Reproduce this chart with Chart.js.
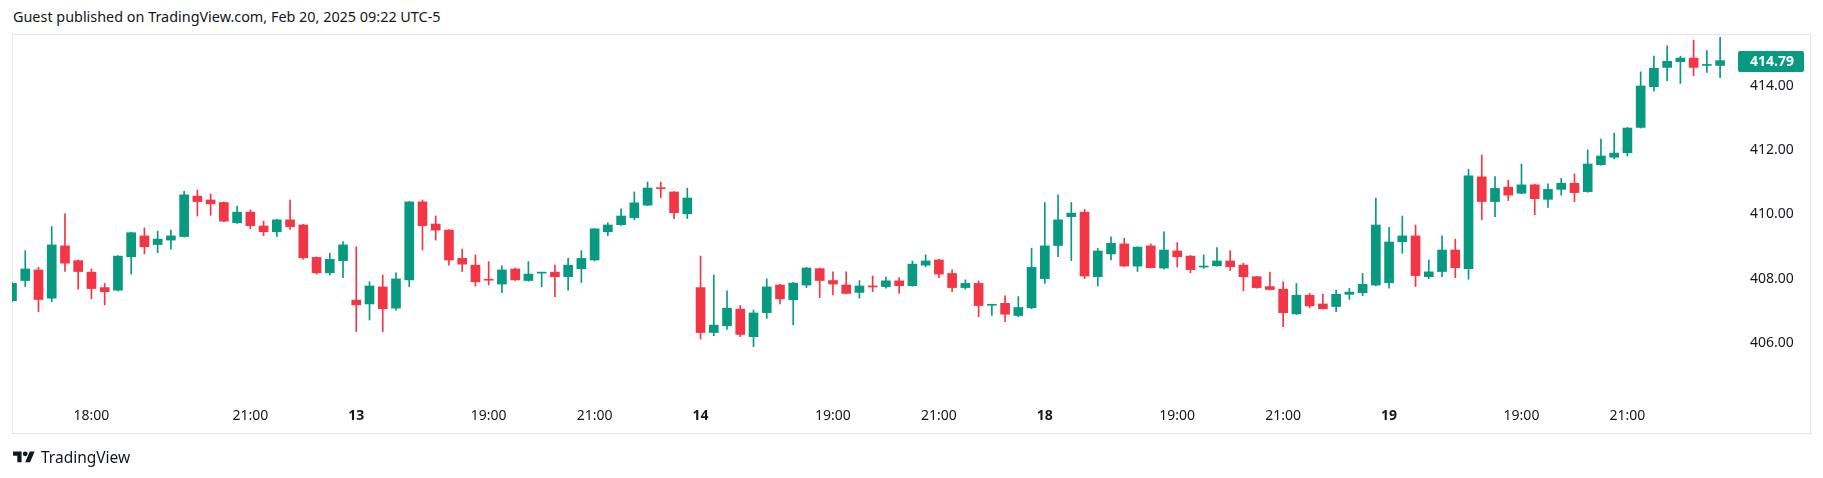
<!DOCTYPE html>
<html>
<head>
<meta charset="utf-8">
<title>TradingView candles</title>
<script src="https://cdn.jsdelivr.net/npm/chart.js@4.4.1/dist/chart.umd.min.js"></script>
<style>
  html, body { margin: 0; padding: 0; background: #ffffff; }
  body { width: 1823px; height: 478px; position: relative; overflow: hidden; font-family: "Noto Sans", sans-serif; color: #131722; }
  #header { position: absolute; left: 13px; top: 7px; font-size: 14.4px; white-space: nowrap; }
  #frame { position: absolute; left: 12px; top: 34px; width: 1797px; height: 398px; border: 1px solid #e6e6e6; }
  #chart { position: absolute; left: 0; top: 0; }
  #logo { position: absolute; left: 13px; top: 446px; display: flex; align-items: center; gap: 6px; font-size: 15.5px; }
</style>
</head>
<body>
<div id="header">Guest published on TradingView.com, Feb 20, 2025 09:22 UTC-5</div>
<div id="frame"></div>
<canvas id="chart" width="1823" height="478"></canvas>
<div id="logo">
  <svg width="22" height="17" viewBox="0 0 36 28"><path fill="#131722" d="M14 22H7V11H0V4h14v18zM28 22h-8l7.5-18h8L28 22z"/><circle fill="#131722" cx="20" cy="8" r="4"/></svg>
  <span>TradingView</span>
</div>
<script>
// 15 minute candles, index 0 = first bar on screen
const open = [
  407.31, 407.94, 408.27, 407.39, 409.02, 408.56, 408.20, 407.72, 407.64, 408.68,
  409.33, 409.06, 409.20, 409.31, 410.57, 410.45, 410.37, 409.74, 410.07, 409.64,
  409.46, 409.83, 409.67, 408.66, 408.18, 408.56, 407.33, 407.21, 407.74, 407.08,
  407.96, 410.39, 409.70, 409.51, 408.63, 408.42, 407.97, 407.83, 408.30, 407.94,
  408.17, 408.20, 408.06, 408.31, 408.58, 409.46, 409.68, 409.90, 410.29, 410.82,
  410.70, 410.02, 407.72, 406.32, 406.53, 407.05, 406.19, 406.94, 407.80, 407.34,
  407.80, 408.31, 407.94, 407.80, 407.57, 407.76, 407.75, 407.93, 407.78, 408.42,
  408.58, 408.16, 407.72, 407.85, 407.17, 407.23, 406.85, 407.09, 408.00, 409.03,
  409.93, 410.07, 408.06, 408.77, 409.08, 408.39, 409.02, 408.33, 408.86, 408.70,
  408.36, 408.40, 408.55, 408.42, 408.06, 407.75, 407.67, 406.90, 407.48, 407.21,
  407.13, 407.51, 407.56, 407.80, 407.87, 409.15, 409.33, 408.06, 408.22, 408.89,
  408.31, 411.17, 410.40, 410.85, 410.66, 410.92, 410.47, 410.78, 410.97, 410.71,
  411.55, 411.78, 411.92, 412.71, 413.98, 414.58, 414.76, 414.87, 414.64, 414.64
];
const high = [
  407.88, 408.87, 408.35, 409.62, 410.02, 408.58, 408.30, 407.85, 408.72, 409.45,
  409.58, 409.48, 409.51, 410.72, 410.76, 410.64, 410.39, 410.26, 410.14, 409.79,
  409.85, 410.45, 409.69, 408.68, 408.79, 409.15, 408.99, 407.90, 408.11, 408.18,
  410.40, 410.45, 409.95, 409.53, 408.92, 408.74, 408.53, 408.40, 408.33, 408.53,
  408.20, 408.42, 408.63, 408.87, 409.56, 409.74, 410.17, 410.70, 411.01, 411.01,
  410.71, 410.82, 408.70, 408.11, 407.62, 407.16, 407.02, 407.99, 407.82, 407.88,
  408.35, 408.33, 408.21, 408.21, 407.94, 408.08, 408.05, 408.03, 408.55, 408.74,
  408.60, 408.27, 407.96, 407.93, 407.20, 407.46, 407.44, 408.94, 410.37, 410.61,
  410.37, 410.16, 408.94, 409.30, 409.26, 408.99, 409.08, 409.46, 409.12, 408.72,
  408.74, 408.97, 408.87, 408.48, 408.07, 408.20, 407.90, 407.85, 407.54, 407.51,
  407.64, 407.70, 408.16, 410.51, 409.60, 409.95, 409.67, 408.58, 409.33, 409.23,
  411.41, 411.85, 411.18, 411.07, 411.57, 410.94, 410.95, 411.12, 411.26, 412.01,
  412.35, 412.53, 412.71, 414.44, 414.93, 415.25, 414.93, 415.43, 415.10, 415.52
];
const low = [
  407.28, 407.75, 406.97, 407.28, 408.22, 407.67, 407.37, 407.18, 407.62, 408.14,
  408.77, 408.81, 408.92, 409.29, 409.95, 409.97, 409.77, 409.72, 409.55, 409.34,
  409.31, 409.53, 408.60, 408.14, 408.11, 408.03, 406.35, 406.71, 406.35, 407.02,
  407.75, 408.89, 409.20, 408.42, 408.22, 407.77, 407.80, 407.56, 407.94, 407.92,
  407.75, 407.44, 407.64, 407.88, 408.55, 409.34, 409.66, 409.83, 410.27, 410.52,
  409.87, 409.87, 406.12, 406.22, 406.42, 406.19, 405.88, 406.76, 407.21, 406.56,
  407.72, 407.41, 407.49, 407.52, 407.39, 407.59, 407.70, 407.54, 407.76, 408.37,
  408.03, 407.59, 407.67, 406.81, 406.85, 406.66, 406.81, 407.06, 407.85, 408.68,
  408.56, 408.00, 407.77, 408.58, 408.38, 408.22, 408.33, 408.29, 408.36, 408.18,
  408.32, 408.39, 408.25, 407.62, 407.70, 407.65, 406.50, 406.88, 407.09, 407.05,
  406.97, 407.35, 407.47, 407.77, 407.70, 408.79, 407.75, 408.00, 408.06, 408.03,
  407.98, 409.83, 409.93, 410.43, 410.64, 409.99, 410.22, 410.60, 410.40, 410.69,
  411.53, 411.73, 411.82, 412.69, 413.84, 414.17, 414.08, 414.32, 414.42, 414.26
];
const close = [
  407.85, 408.30, 407.35, 409.05, 408.48, 408.22, 407.69, 407.59, 408.70, 409.43,
  408.99, 409.23, 409.33, 410.61, 410.40, 410.33, 409.79, 410.07, 409.65, 409.46,
  409.83, 409.62, 408.65, 408.18, 408.60, 409.05, 407.18, 407.77, 407.06, 407.99,
  410.39, 409.65, 409.51, 408.58, 408.45, 407.90, 407.95, 408.27, 407.96, 408.14,
  408.19, 408.06, 408.42, 408.63, 409.55, 409.67, 409.95, 410.36, 410.82, 410.80,
  410.05, 410.51, 406.32, 406.55, 407.08, 406.26, 406.93, 407.74, 407.37, 407.86,
  408.33, 407.94, 407.83, 407.54, 407.77, 407.74, 407.93, 407.78, 408.45, 408.55,
  408.14, 407.72, 407.85, 407.16, 407.19, 406.89, 407.10, 408.35, 409.02, 409.83,
  410.04, 408.08, 408.86, 409.10, 408.39, 408.98, 408.34, 408.89, 408.68, 408.28,
  408.38, 408.55, 408.37, 408.06, 407.72, 407.66, 406.94, 407.48, 407.15, 407.06,
  407.51, 407.58, 407.82, 409.67, 409.14, 409.33, 408.09, 408.21, 408.89, 408.34,
  411.20, 410.40, 410.81, 410.60, 410.92, 410.49, 410.78, 410.97, 410.68, 411.57,
  411.82, 411.91, 412.69, 414.00, 414.55, 414.77, 414.87, 414.58, 414.66, 414.79
];

// time axis: bar index of each label and its text
const timeTickIdx = [6, 18, 26, 36, 44, 52, 62, 70, 78, 88, 96, 104, 114, 122];
const timeTickLabels = ["18:00", "21:00", "13", "19:00", "21:00", "14", "19:00", "21:00", "18", "19:00", "21:00", "19", "19:00", "21:00"];
const priceTicks = [406, 408, 410, 412, 414];

const UP = "#089981";
const DOWN = "#f23645";
const FONT = "'Noto Sans', sans-serif";

document.addEventListener("DOMContentLoaded", () => {
    const ctx = document.getElementById("chart").getContext("2d");

    const colorOf = (c) => (close[c.dataIndex] >= open[c.dataIndex] ? UP : DOWN);

    const bodies = open.map((o, i) => ({ x: i, y: [o, close[i]] }));
    const wicks = low.map((l, i) => ({ x: i, y: [l, high[i]] }));

    // last price badge on the price scale
    const lastPrice = {
        id: "lastPrice",
        afterDraw(chart) {
            const y = chart.scales.y.getPixelForValue(close[close.length - 1]);
            const left = chart.chartArea.right + 2;
            const c = chart.ctx;
            c.save();
            c.fillStyle = UP;
            c.beginPath();
            c.roundRect(left, Math.round(y) - 10, 66, 21, 2);
            c.fill();
            c.fillStyle = "#ffffff";
            c.font = "bold 14px " + FONT;
            c.textBaseline = "middle";
            c.textAlign = "left";
            c.fillText(close[close.length - 1].toFixed(2), chart.chartArea.right + 14, Math.round(y) + 1);
            c.restore();
        }
    };

    new Chart(ctx, {
        type: "bar",
        data: {
            datasets: [
                {
                    label: "body",
                    data: bodies,
                    backgroundColor: colorOf,
                    barThickness: 9,
                    minBarLength: 1,
                    grouped: false,
                    order: 1
                },
                {
                    label: "wick",
                    data: wicks,
                    backgroundColor: colorOf,
                    barThickness: 1,
                    grouped: false,
                    order: 2
                }
            ]
        },
        options: {
            responsive: false,
            animation: false,
            layout: { padding: { left: 12, top: 35, right: 0, bottom: 45 } },
            plugins: {
                legend: { display: false },
                tooltip: { enabled: false }
            },
            scales: {
                x: {
                    type: "linear",
                    offset: false,
                    min: 0,
                    max: 130.2,
                    grid: { display: false, drawTicks: false },
                    border: { display: false },
                    afterBuildTicks: (scale) => {
                        scale.ticks = timeTickIdx.map((v) => ({ value: v }));
                    },
                    afterFit: (scale) => { scale.height = 33; },
                    ticks: {
                        autoSkip: false,
                        maxRotation: 0,
                        padding: 8,
                        color: "#131722",
                        font: (c) => ({
                            family: FONT,
                            size: 14,
                            weight: /^\d+$/.test(timeTickLabels[c.index]) ? "bold" : "normal"
                        }),
                        callback: (v, i) => timeTickLabels[i]
                    }
                },
                y: {
                    position: "right",
                    min: 404.218,
                    max: 415.589,
                    grid: { display: false, drawTicks: false },
                    border: { display: false },
                    afterBuildTicks: (scale) => {
                        scale.ticks = priceTicks.map((v) => ({ value: v }));
                    },
                    afterFit: (scale) => { scale.width = 87; },
                    ticks: {
                        padding: 14,
                        color: "#131722",
                        font: { family: FONT, size: 14 },
                        callback: (v) => Number(v).toFixed(2)
                    }
                }
            }
        },
        plugins: [lastPrice]
    });
});
</script>
</body>
</html>
